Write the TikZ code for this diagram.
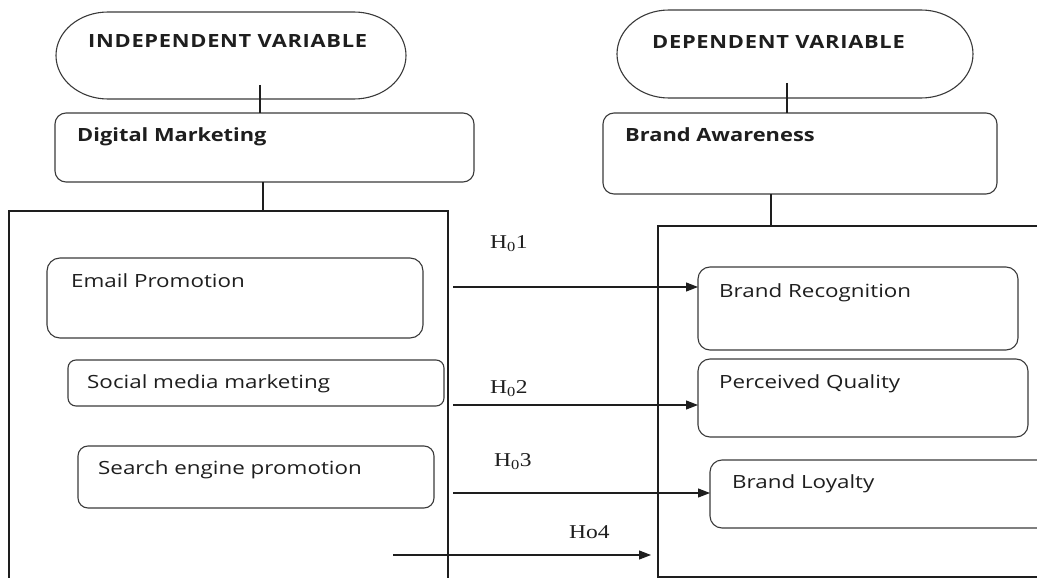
\documentclass[tikz,border=0pt]{standalone}
\usepackage{fontspec}
\setmainfont{Liberation Serif}
\newfontfamily\boxfont{Open Sans}[FakeStretch=1.23]
\newfontfamily\headfont{Open Sans}[FakeStretch=1.2]
\newfontfamily\capsfont{Open Sans}[FakeStretch=1.2, LetterSpace=4]
\newfontfamily\hypfont{Liberation Serif}[FakeStretch=1.2]
\usetikzlibrary{arrows.meta,calc}

\definecolor{ink}{HTML}{1E1E1E}
\definecolor{edge}{HTML}{3A3A3A}

\tikzset{
  frame/.style={draw=edge, line width=1.1pt},
  slot/.style={rectangle, anchor=north west, inner sep=0pt, outer sep=0pt},
  panel/.style={slot, frame, rounded corners=#1},
  cont/.style={slot, draw=ink, line width=1.1pt},
  link/.style={draw=ink, line width=1.1pt},
  arr/.style={draw=ink, line width=1.1pt, -{Triangle[length=12pt,width=9pt]}},
  boxtxt/.style={anchor=base west, inner sep=0pt, text=ink,
                 font=\boxfont\fontsize{18.2}{22}\selectfont},
  headtxt/.style={anchor=base west, inner sep=0pt, text=ink,
                  font=\headfont\bfseries\fontsize{18.2}{22}\selectfont},
  capstxt/.style={anchor=base west, inner sep=0pt, text=ink,
                  font=\capsfont\bfseries\fontsize{18.2}{22}\selectfont},
  hyp/.style={anchor=base west, inner sep=0pt, text=ink,
              font=\hypfont\fontsize{19.6}{24}\selectfont}
}

% stadium outline with elliptical ends around a placeholder node
\newcommand\stadium[3]{% node, x radius, y radius
  \draw[frame] ($(#1.north west)+(#2,0)$) -- ($(#1.north east)+(-#2,0)$)
    arc[start angle=90, end angle=-90, x radius=#2pt, y radius=#3pt]
    -- ($(#1.south west)+(#2,0)$)
    arc[start angle=-90, end angle=-270, x radius=#2pt, y radius=#3pt]
    -- cycle;}

\begin{document}
\begin{tikzpicture}[x=1pt,y=-1pt]
  \useasboundingbox (0,0) rectangle (1037,578);
  \clip (0,0) rectangle (1037,578);

  % header pills
  \node[slot, minimum width=350pt, minimum height=87pt] (ivar) at (56,12) {};
  \node[slot, minimum width=356pt, minimum height=88pt] (dvar) at (617,10) {};
  \stadium{ivar}{52}{43.5}
  \stadium{dvar}{52}{44}
  \node[capstxt, name=ivart] at (88,48) {INDEPENDENT VARIABLE};
  \node[capstxt, name=dvart] at (652,49) {DEPENDENT VARIABLE};

  % construct boxes
  \node[panel=11pt, minimum width=419pt, minimum height=69pt] (dm) at (55,113) {};
  \node[panel=11pt, minimum width=394pt, minimum height=81pt] (ba) at (603,113) {};
  \node[headtxt, name=dmt] at (77,141) {Digital Marketing};
  \node[headtxt, name=bat] at (625,142) {Brand Awareness};

  % containers
  \node[cont, minimum width=439pt, minimum height=400pt] (lcont) at (9,211) {};
  \node[cont, minimum width=420pt, minimum height=351pt] (rcont) at (658,226) {};

  % independent dimensions
  \node[panel=13pt, minimum width=376pt, minimum height=80pt] (email) at (47,258) {};
  \node[panel=8pt,  minimum width=376pt, minimum height=46pt] (social) at (68,360) {};
  \node[panel=10pt, minimum width=356pt, minimum height=62pt] (search) at (78,446) {};
  \node[boxtxt, name=emailt]  at (71,287)  {Email Promotion};
  \node[boxtxt, name=socialt] at (87,388)  {Social media marketing};
  \node[boxtxt, name=searcht] at (98,474)  {Search engine promotion};

  % dependent dimensions
  \node[panel=12pt, minimum width=320pt, minimum height=83pt] (br) at (698,267) {};
  \node[panel=12pt, minimum width=330pt, minimum height=78pt] (pq) at (698,359) {};
  \node[panel=12pt, minimum width=345pt, minimum height=68pt] (bl) at (710,460) {};
  \node[boxtxt, name=brt] at (719,297) {Brand Recognition};
  \node[boxtxt, name=pqt] at (719,388) {Perceived Quality};
  \node[boxtxt, name=blt] at (732,488) {Brand Loyalty};

  % vertical links
  \draw[link] ($(ivar.south)+(29,-14)$) coordinate (k1) -- (k1 |- dm.north);
  \draw[link] ($(dm.south)+(-1.5,0)$) coordinate (k2) -- (k2 |- lcont.north);
  \draw[link] ($(dvar.south)+(-8,-15)$) coordinate (k3) -- (k3 |- ba.north);
  \draw[link] ($(ba.south)+(-29,0)$) coordinate (k4) -- (k4 |- rcont.north);

  % hypothesis arrows
  \coordinate (h1) at (453,287);
  \coordinate (h2) at (453,405);
  \coordinate (h3) at (453,493);
  \coordinate (h4) at (393,555);
  \draw[arr] (h1) -- (h1 -| br.west);
  \draw[arr] (h2) -- (h2 -| pq.west);
  \draw[arr] (h3) -- (h3 -| bl.west);
  \draw[arr, shorten >=7pt] (h4) -- (h4 -| rcont.west);

  \node[hyp, name=h1t] at (490,248) {H\textsubscript{0}1};
  \node[hyp, name=h2t] at (490,393) {H\textsubscript{0}2};
  \node[hyp, name=h3t] at (494,466) {H\textsubscript{0}3};
  \node[hyp, name=h4t] at (569,538) {Ho4};
\end{tikzpicture}
\end{document}
